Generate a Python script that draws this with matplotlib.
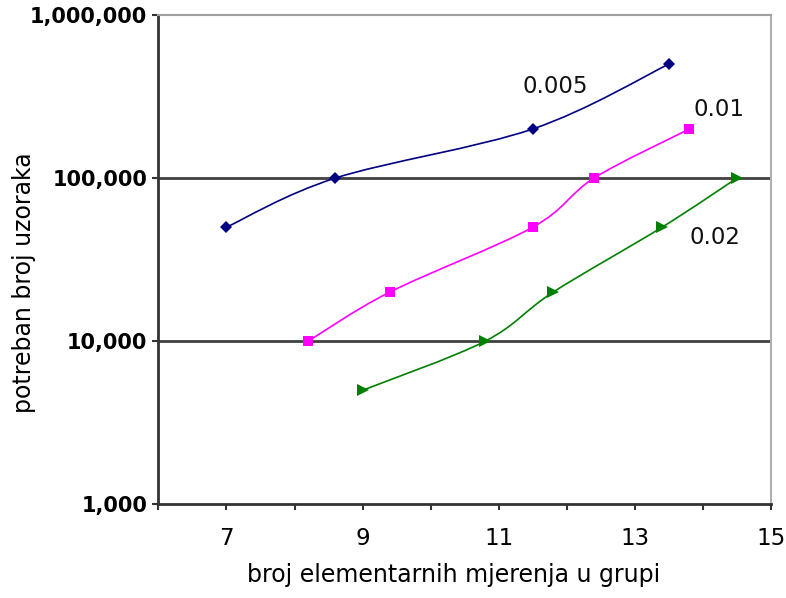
import numpy as np
import matplotlib
matplotlib.use("Agg")
import matplotlib.pyplot as plt
from matplotlib.path import Path
from matplotlib.patches import PathPatch
from matplotlib.ticker import FixedLocator, FuncFormatter, NullLocator, MultipleLocator

# ---- data ----
x_005 = [7, 8.6, 11.5, 13.5]
y_005 = [50000, 100000, 200000, 500000]
x_001 = [8.2, 9.4, 11.5, 12.4, 13.8]
y_001 = [10000, 20000, 50000, 100000, 200000]
x_002 = [9, 10.8, 11.8, 13.4, 14.5]
y_002 = [5000, 10000, 20000, 50000, 100000]
series_labels = ["0.005", "0.01", "0.02"]
x_ticks = [7, 9, 11, 13, 15]
y_ticks = [1000, 10000, 100000, 1000000]
x_label = "broj elementarnih mjerenja u grupi"
y_label = "potreban broj uzoraka"


def smooth_path(xs, ys):
    px = np.asarray(xs, float)
    py = np.log10(np.asarray(ys, float))
    P = np.column_stack([px, py])
    n = len(P)
    verts = [tuple(P[0])]
    codes = [Path.MOVETO]
    for i in range(n - 1):
        p0 = P[max(i - 1, 0)]
        p1 = P[i]
        p2 = P[i + 1]
        p3 = P[min(i + 2, n - 1)]
        c1 = p1 + (p2 - p0) / 6.0
        c2 = p2 - (p3 - p1) / 6.0
        verts += [tuple(c1), tuple(c2), tuple(p2)]
        codes += [Path.CURVE4] * 3
    verts = [(vx, 10 ** vy) for vx, vy in verts]
    return Path(verts, codes)


fig = plt.figure(figsize=(7.86, 5.98), dpi=100)
ax = fig.add_axes([0.2015, 0.1567, 0.7795, 0.8183])
ax.set_yscale("log")
ax.set_xlim(6, 15)
ax.set_ylim(1000, 1000000)

# gridlines
for g in [10000, 100000]:
    ax.axhline(g, color="#404040", lw=2.0, zorder=1)

series = [
    (x_005, y_005, "#000080", "D", 6),
    (x_001, y_001, "#FF00FF", "s", 7.5),
    (x_002, y_002, "#008000", ">", 8.5),
]
for xs, ys, col, mk, ms in series:
    patch = PathPatch(smooth_path(xs, ys), facecolor="none", edgecolor=col,
                      lw=1.2, zorder=3)
    ax.add_patch(patch)
    ax.plot(xs, ys, linestyle="none", marker=mk, color=col, markersize=ms,
            markeredgewidth=0, zorder=4)

# series labels
label_pos = [(11.83, 362000), (14.23, 262000), (14.17, 43500)]
for lab, (lx, ly) in zip(series_labels, label_pos):
    ax.text(lx, ly, lab, ha="center", va="center", fontsize=16.5,
            color="#111111", zorder=5)

# spines
ax.spines["left"].set_color("#333333")
ax.spines["left"].set_linewidth(2.0)
ax.spines["bottom"].set_color("#333333")
ax.spines["bottom"].set_linewidth(2.0)
ax.spines["top"].set_color("#a0a0a0")
ax.spines["top"].set_linewidth(1.5)
ax.spines["right"].set_color("#b0b0b0")
ax.spines["right"].set_linewidth(1.5)

# ticks
ax.xaxis.set_major_locator(FixedLocator(x_ticks))
ax.xaxis.set_minor_locator(MultipleLocator(1))
ax.yaxis.set_major_locator(FixedLocator(y_ticks))
ax.yaxis.set_minor_locator(NullLocator())
ax.yaxis.set_major_formatter(FuncFormatter(lambda v, p: f"{int(round(v)):,}"))
ax.xaxis.set_major_formatter(FuncFormatter(lambda v, p: f"{int(v)}"))
ax.tick_params(axis="x", which="both", direction="out", length=4, width=1.5,
               color="#333333", labelsize=16.5, pad=12)
ax.tick_params(axis="y", which="both", direction="out", length=4, width=1.5,
               color="#333333", labelsize=15, pad=4)
for t in ax.get_yticklabels():
    t.set_fontweight("bold")

fig.text(0.5775, 0.038, x_label, ha="center", va="center", fontsize=17)
fig.text(0.031, 0.527, y_label, ha="center", va="center", fontsize=17,
         rotation=90)

fig.savefig("out.png", dpi=100)
